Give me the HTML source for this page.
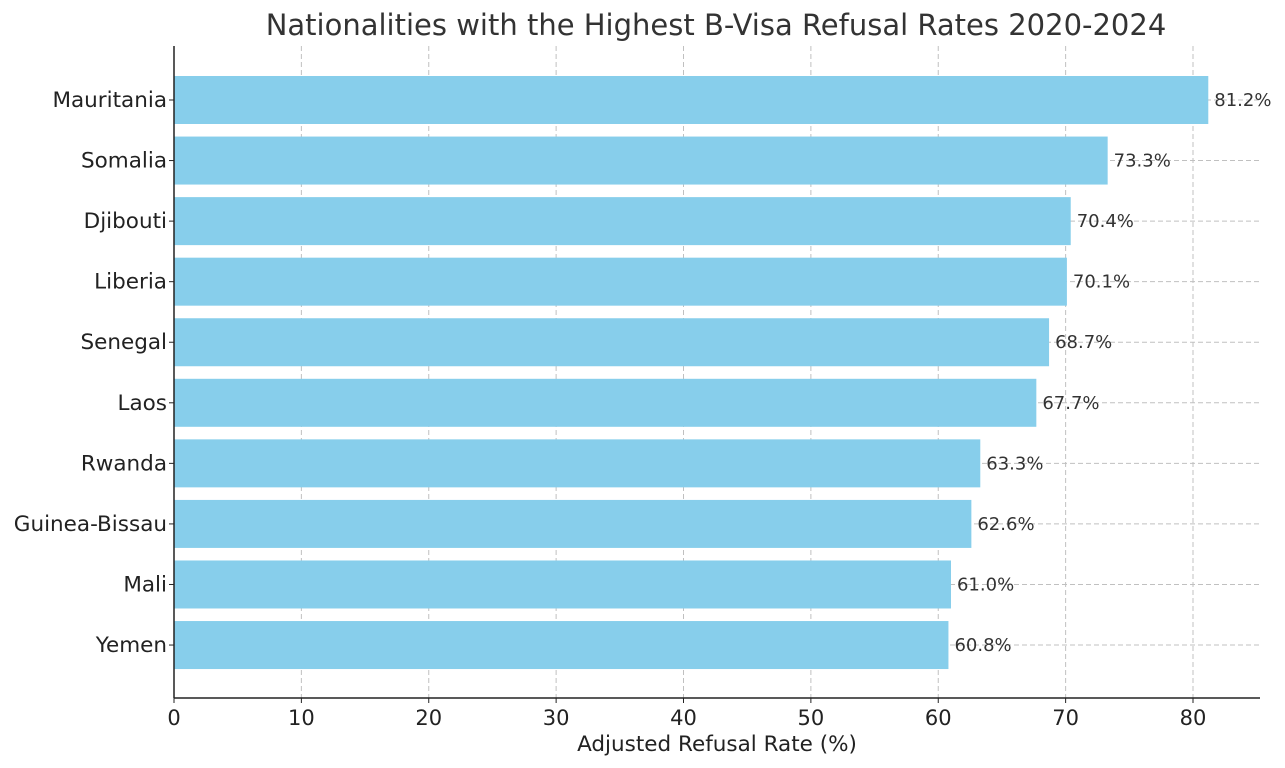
<!DOCTYPE html>
<html><head><meta charset="utf-8"><style>
body{margin:0;background:#fff;}
svg{display:block;font-family:"DejaVu Sans","Liberation Sans",sans-serif;}
</style></head><body>
<svg id="chart" width="1285" height="768"></svg>
<script>
const categories=["Mauritania","Somalia","Djibouti","Liberia","Senegal","Laos","Rwanda","Guinea-Bissau","Mali","Yemen"];
const values=[81.2,73.3,70.4,70.1,68.7,67.7,63.3,62.6,61.0,60.8];
const xTicks=[0,10,20,30,40,50,60,70,80];
const NS="http://www.w3.org/2000/svg";
const svg=document.getElementById('chart');
const L=174,R=1260,T=46,B=698;
const xMax=85.26;
const x=v=>L+v/xMax*(R-L);
const y0=100,step=60.56,bh=48;
const y=i=>y0+i*step;
function mk(t,a,txt){const e=document.createElementNS(NS,t);for(const k in a)e.setAttribute(k,a[k]);if(txt!==undefined)e.textContent=txt;svg.appendChild(e);return e;}
xTicks.forEach(t=>{const g=mk('line',{x1:x(t),x2:x(t),y1:T,y2:B,stroke:'#c0c0c0','stroke-dasharray':'5,3','stroke-width':1});

});
categories.forEach((c,i)=>{const g=mk('line',{x1:L,x2:R,y1:y(i),y2:y(i),stroke:'#c0c0c0','stroke-dasharray':'5,3','stroke-width':1});

});
categories.forEach((c,i)=>{
const r=mk('rect',{x:L,y:y(i)-bh/2,width:x(values[i])-L,height:bh,fill:'#87ceeb'});


const v=mk('text',{x:x(values[i])+6,y:y(i)+6,'font-size':18,fill:'#333'},values[i].toFixed(1)+'%');


const lb=mk('text',{x:L-7,y:y(i)+7,'font-size':21.5,fill:'#222','text-anchor':'end'},c);


const tk=mk('line',{x1:L-5,x2:L,y1:y(i),y2:y(i),stroke:'#222'});


});
xTicks.forEach(t=>{
const tk=mk('line',{x1:x(t),x2:x(t),y1:B,y2:B+5,stroke:'#222'});


const lb=mk('text',{x:x(t),y:B+27,'font-size':21,fill:'#222','text-anchor':'middle'},t);


});
const a1=mk('line',{x1:L,x2:L,y1:T,y2:B,stroke:'#222','stroke-width':1.5});


const a2=mk('line',{x1:L,x2:R,y1:B,y2:B,stroke:'#222','stroke-width':1.5});


const xt=mk('text',{x:(L+R)/2,y:751,'font-size':21.5,fill:'#222','text-anchor':'middle'},'Adjusted Refusal Rate (%)');


const tt=mk('text',{x:(L+R)/2-1,y:35,'font-size':29,fill:'#333','text-anchor':'middle'},'Nationalities with the Highest B-Visa Refusal Rates 2020-2024');


</script>
</body></html>
